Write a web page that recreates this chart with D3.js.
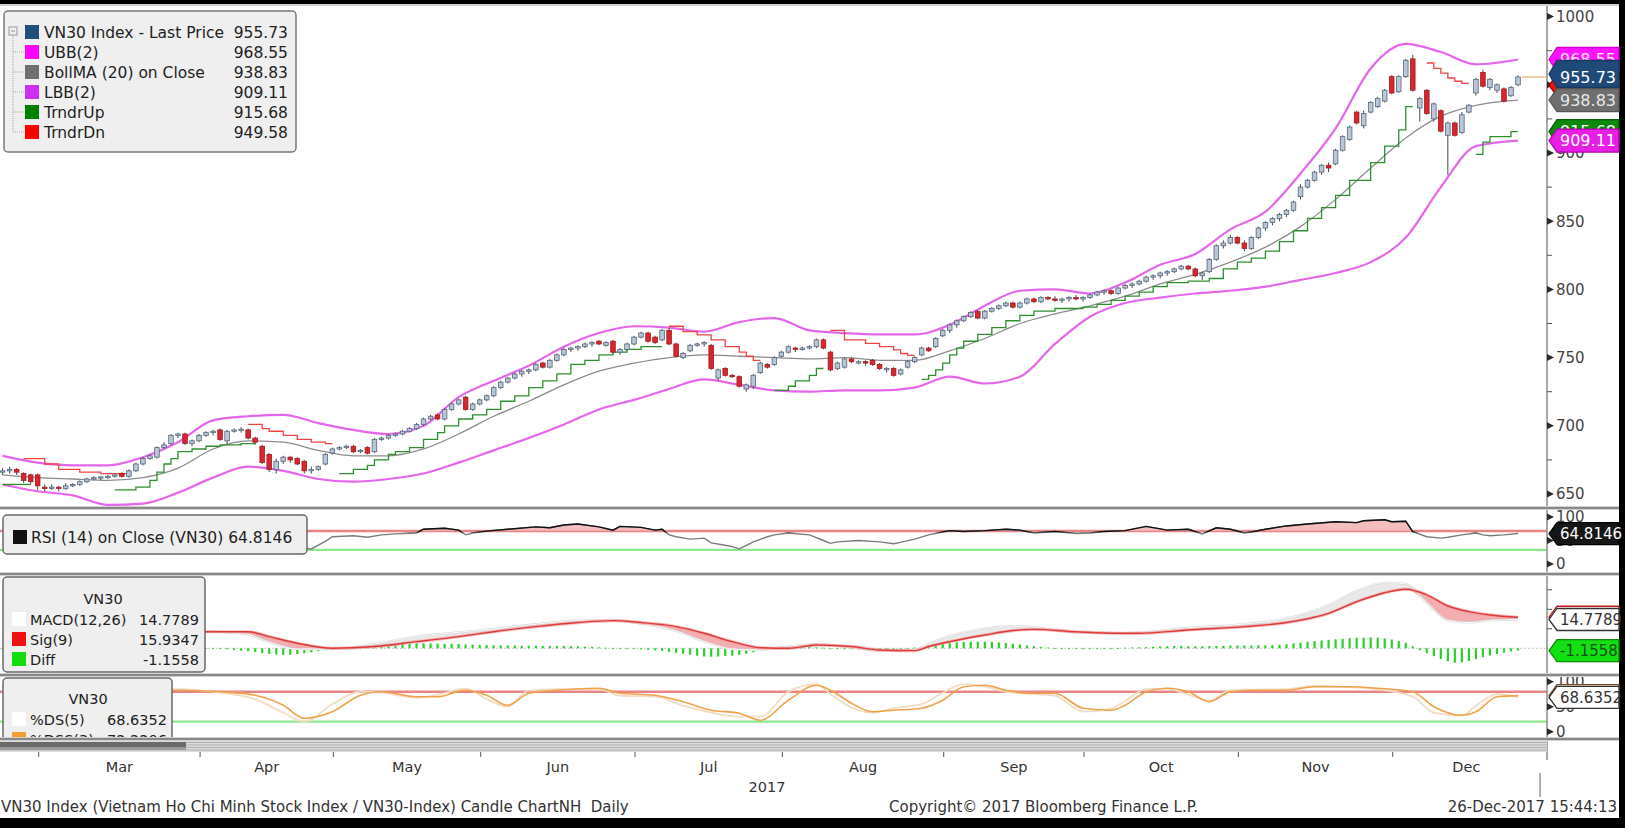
<!DOCTYPE html>
<html><head><meta charset="utf-8">
<script src="https://cdn.jsdelivr.net/npm/d3@7"></script>
<style>
html,body{margin:0;padding:0;background:#000;overflow:hidden;}
svg{display:block;}
text{font-family:"DejaVu Sans",sans-serif;}
</style></head><body>
<svg id="c" width="1625" height="828"></svg>
<script>
// ---------------- DATA ----------------
const months     = ["Mar","Apr","May","Jun","Jul","Aug","Sep","Oct","Nov","Dec"];
const monthStart = [6,29,48,69,91,112,135,155,177,199];
const monthDays  = [23,19,21,22,21,23,20,22,22,21];
const yearLabel  = "2017";

const opens = [
 666,667,668,665,664,664,
 655,654,655,654,656,657,659,661,662,662,663,665,663,667,672,676,677,684,687,693,694,687,689,
 693,695,697,689,696,697,697,691,685,679,668,674,677,676,674,667,668,672,680,
 683,684,685,681,684,681,690,691,693,694,696,698,701,705,708,705,712,716,721,712,716,
 719,722,728,732,735,738,740,741,746,743,748,752,756,757,758,760,762,759,762,754,756,760,
 765,768,765,763,770,760,750,755,759,760,759,735,742,737,736,727,729,739,745,745,751,
 754,757,756,757,758,763,754,742,743,749,746,747,748,745,741,742,738,743,747,752,757,758,766,
 770,774,777,780,784,779,784,786,788,790,787,790,793,791,794,793,792,793,794,793,
 794,796,798,799,797,801,803,804,806,809,810,812,813,815,817,815,810,813,822,832,834,838,
 834,830,838,845,849,852,855,858,868,875,880,886,891,892,902,910,930,920,930,934,938,956,
 945,956,969,933,946,925,931,913,922,915,930,944,959,948,946,947,942,950];
const highs = [
 669,670,669,666,665,665,
 657,657,656,658,658,660,662,663,663,664,665,666,668,673,677,679,685,688,694,695,695,690,694,
 696,697,698,697,698,699,698,692,686,680,676,678,678,677,675,670,671,680,684,
 685,686,686,683,685,691,692,694,695,697,699,702,706,708,709,713,717,720,722,717,720,
 723,729,733,736,739,741,742,746,747,749,753,757,758,759,761,762,763,762,763,757,761,766,
 769,769,766,771,772,761,754,760,761,762,760,742,743,738,737,731,738,747,746,751,755,
 759,758,758,759,764,764,755,747,750,750,748,748,749,746,743,743,742,748,751,758,758,765,771,
 775,778,781,784,785,785,787,789,791,791,791,794,794,795,795,795,794,795,796,795,
 797,799,800,800,802,804,805,807,810,811,813,814,816,818,818,816,813,823,833,836,840,839,
 836,839,846,850,853,856,859,865,877,881,887,892,893,903,913,920,931,931,938,941,947,957,
 957,969,972,941,947,937,932,923,923,930,936,955,961,955,951,948,949,957];
const lows = [
 664,665,664,658,657,653,
 652,653,652,653,655,656,658,660,660,661,662,662,662,666,671,675,676,683,686,691,686,685,688,
 692,693,689,686,695,695,690,686,672,666,665,672,673,671,665,665,667,671,679,
 682,683,680,680,679,680,689,690,692,693,695,697,700,704,704,704,711,715,711,711,715,
 718,721,727,731,734,736,738,740,742,742,747,751,754,755,757,758,759,758,753,752,755,759,
 764,761,760,762,759,750,749,754,758,758,741,733,736,735,728,725,727,738,742,744,750,
 753,754,755,756,757,756,740,741,742,746,745,744,744,741,739,736,737,742,746,751,754,757,765,
 768,772,776,779,778,778,783,785,787,786,786,789,790,790,792,791,790,791,792,791,
 793,795,796,796,796,800,801,803,805,807,808,810,812,814,814,809,807,812,821,830,833,833,
 828,829,837,843,847,850,853,857,866,874,879,884,886,891,901,909,921,918,929,933,937,943,
 944,955,945,923,928,923,915,884,912,914,929,942,948,946,944,937,941,949];
const closes = [
 667,668,666,660,659,656,
 654,655,654,656,657,659,661,662,662.5,663,664,663,667,672,676,678,684,686,693,694,687,689,693,
 695,696,690,696,697,697.5,691,688,673,668,674,677,675,672,667,668,670,679,683,
 684,685,681,682,680,690,691,693,694,696,698,701,705,707,705,712,716,719,712,716,719,
 722,728,732,735,738,740,741,745,743,748,752,756,757,758,760,761,760,761,754,756,760,765,
 768,762,761,770,760,751,753,759,760,761,742,741,737,736,729,730,737,746,743,750,754,
 758,756,757,758,763,757,741,746,749,747,747,746,745,742,742,737,741,747,750,757,755,764,770,
 774,777,780,783,779,784,786,788,790,787,790,793,791,794,793,792,793,794,793,794,
 796,798,799,797,801,803,804,806,809,810,812,813,815,817,815,810,812,822,832,834,838,834,
 830,838,845,849,852,855,858,864,875,880,886,891,889,902,912,919,922,929,937,940,946,944,
 956,968,946,940,929,936,916,922,913,928,935,954,949,954,950,938,948,955.73];

// Bollinger bands (sampled read-offs)
const bbIdx = [0,5,10,15,20,25,30,35,40,45,50,55,60,65,70,75,80,85,90,95,100,105,110,115,120,125,130,135,140,145,150,155,160,165,170,175,180,185,190,195,200,205,210,216];
const ubb = [678,673,671,671,677,688,704,707,708,702,697,694,700,721,733,744,758,768,773,772,769,776,779,770,768,767,767,774,788,799,800,797,805,818,826,844,857,885,918,962,980,974,965,968.55];
const bma = [664,662,661,660,662,669,683,689,688,682,678,678,683,694,707,718,730,740,746,750,752,751,750,749,750,748,748,755,764,775,782,788,795,804,811,820,831,846,866,889,911,927,935,938.83];
const lbb = [657,652,649,642,643,651,662,670,667,661,659,661,665,673,682,691,701,712,719,727,734,730,726,725,726,726,728,736,731,736,760,780,790,794,797,799,802,807,812,820,838,875,905,909.11];

// Trend stop lines: segments of [dayIndex, level]
const trndrUp = [
 [[0,657],[4,657]],
 [[16,653],[19,655],[21,660],[22,666],[23,672],[24,676],[25,681],[27,683],[29,685],[31,686],[34,687],[36,687]],
 [[48,665],[50,668],[52,671],[53,675],[55,679],[56,681],[58,684],[60,690],[62,695],[63,700],[65,705],[67,708],[69,712],[71,718],[73,722],[75,728],[77,733],[79,738],[81,745],[83,748],[85,752],[87,754],[89,756],[91,758],[94,758]],
 [[110,726],[112,729],[113,733],[115,737],[116,742],[117,742]],
 [[131,734],[132,737],[133,741],[134,746],[135,752],[136,757],[137,762],[139,767],[141,772],[143,777],[145,781],[147,784],[150,786],[154,787],[156,789],[158,792],[160,795],[162,798],[164,802],[166,805],[169,806],[172,808],[174,815],[176,820],[178,823],[180,828],[182,835],[184,843],[186,852],[188,860],[190,869],[192,880],[195,893],[197,905],[199,917],[200,934],[201,934]],
 [[210,899],[211,908],[212,912],[215,915.68],[216,915.68]]
];
const trndrDn = [
 [[3,676],[6,672],[8,668],[11,666],[14,665],[18,665]],
 [[35,701],[37,698],[38,696],[40,693],[42,690],[44,688],[46,687],[47,687]],
 [[95,773],[97,769],[99,766.6],[101,763],[103,758],[105,754],[106,751],[107,748],[108,748]],
 [[118,770],[120,763],[123,760.5],[125,758],[127,755.6],[128,753],[129,751.7],[130,751.7]],
 [[203,966],[204,962],[205,958.5],[206,955],[207,952.6],[208,951],[209,951]]
];

// RSI(14)
const rsiIdx = [0,2,4,6,8,10,12,14,16,18,20,22,24,26,28,30,32,34,36,37,38,40,42,43,44,46,47,50,52,54,56,59,60,63,65,66,67,69,72,76,78,80,82,85,87,88,91,93,94,95,96,98,100,101,103,104,105,107,109,110,112,115,117,118,119,122,125,127,128,130,132,134,135,137,140,143,145,147,150,153,155,157,160,163,166,169,171,173,175,177,178,180,183,186,190,193,194,197,198,200,201,203,205,206,208,210,211,212,214,216];
const rsiVal = [50,47,42,38,38,44,48,50,52,58,65,70,72,66,70,69,68,68,60,45,40,38,37,34,32,48,58,60,57,62,64,66,74,76,72,62,66,70,74,79,77,83,85,79,72,80,78,72,74,62,58,53,55,45,40,37,32,47,58,62,66,62,50,44,47,50,47,43,46,53,62,68,71,69,71,74,72,66,69,65,66,69,71,80,72,74,64,77,74,66,68,74,81,85,90,88,92,94,90,91,69,58,55,57,62,66,62,60,62,64.8146];

// MACD(12,26), Signal(9) read-offs and daily Diff histogram
const macdIdx = [0,10,20,29,35,38,42,47,53,59,65,70,76,82,87,91,96,100,104,108,112,116,121,125,130,132,135,140,144,147,153,159,162,169,177,183,189,193,197,200,203,206,209,212,216];
const sigVal  = [7.5,7,7.8,8.5,8.5,6,2.6,0,0.9,3.4,6,8.5,11.1,13.2,14.2,13.2,11.1,7.7,3.4,0.3,0,1.7,0.9,-0.9,-1.2,0.9,3.4,6.8,9.1,9.7,8.5,7.7,7.7,9.4,11.1,13.2,17.9,23.9,28.5,30.3,27.4,21.7,18.8,17.1,15.9347];
const macdVal = [7.0,6.4,9.2,8.7,7.0,3.1,-0.4,-0.5,2.2,6.0,8.2,10.0,12.4,14.2,14.3,12.6,8.8,3.5,-0.4,-0.9,0.9,2.2,0.4,-1.5,-0.8,2.4,6.3,10.2,11.4,10.8,8.1,7.8,8.2,10.5,12.5,15.3,22.2,29.4,33.6,33.1,23.4,14.3,13.2,14.2,14.7789];
const diffVal = [
 -0.5,-0.6,-0.8,-1,-1.2,-1.3,
 -1.3,-1.2,-1,-0.8,-0.6,-0.4,-0.2,0,0.2,0.4,0.6,0.8,1,1.2,1.4,1.6,1.7,1.8,1.6,1.4,1.0,0.6,0.4,
 0.2,0,-0.3,-0.6,-0.9,-1.2,-1.5,-1.9,-2.4,-2.9,-3.2,-3.4,-3.3,-3.0,-2.6,-2.1,-1.5,-1.0,-0.5,
 0,0.4,0.7,0.9,1.0,1.3,1.6,1.9,2.1,2.3,2.5,2.6,2.6,2.5,2.4,2.3,2.3,2.2,2.0,1.8,1.7,
 1.6,1.5,1.5,1.4,1.4,1.3,1.3,1.3,1.2,1.2,1.2,1.2,1.1,1.0,0.9,0.7,0.5,0.3,0.1,-0.2,-0.3,-0.4,
 -0.6,-0.8,-1.0,-1.3,-1.8,-2.3,-2.8,-3.3,-3.8,-4.2,-4.3,-4.2,-4.0,-3.8,-3.3,-2.8,-2.0,-1.2,-0.4,0.3,0.7,
 0.9,1.0,1.0,0.8,0.5,0.3,0,-0.3,-0.5,-0.5,-0.6,-0.6,-0.6,-0.6,-0.5,-0.4,-0.2,0,0.4,0.9,1.5,2.0,2.5,
 2.9,3.1,3.3,3.4,3.4,3.4,3.3,3.0,2.7,2.3,1.9,1.5,1.1,0.7,0.4,0.1,-0.2,-0.3,-0.4,-0.5,
 -0.5,-0.4,-0.3,-0.1,0.1,0.3,0.4,0.5,0.6,0.8,1.0,1.1,1.2,1.2,1.1,1.0,1.0,1.1,1.2,1.3,1.4,1.4,
 1.4,1.4,1.5,1.5,1.6,1.8,2.1,2.5,2.9,3.3,3.7,4.0,4.3,4.6,4.9,5.2,5.4,5.5,5.6,5.5,5.1,4.5,
 3.7,2.8,1.0,-1.0,-2.5,-4.0,-5.5,-6.6,-7.4,-7.2,-6.5,-5.6,-4.6,-3.7,-2.9,-2.2,-1.6,-1.1558];

// Stochastics %DS(5) and %DSS(3)
const stIdx = [0,4,8,12,16,20,25,31,36,40,43,47,51,54,59,62,66,69,72,75,79,85,88,93,97,101,105,108,112,116,118,121,124,127,131,134,137,140,143,146,150,154,158,160,163,166,169,172,175,178,183,187,192,196,201,204,208,210,213,216];
const dssVal = [90,65,40,30,50,75,83,80,73,53,27,40,73,80,70,70,83,73,53,77,83,87,77,73,60,43,37,23,63,93,83,57,40,43,47,63,90,93,83,77,77,47,43,53,80,87,80,60,80,83,83,90,90,87,80,50,33,40,70,72.2206];
const dsVal  = [85,55,30,35,62,82,85,78,65,38,20,55,80,78,68,74,86,65,50,82,85,85,72,70,52,38,30,30,80,95,75,48,38,47,55,78,95,90,80,76,72,40,46,62,85,86,74,62,83,84,85,92,89,85,70,38,32,52,75,68.6352];

// Axis ticks
const priceTicks = [650,700,750,800,850,900,950,1000];
const rsiTicks = [0,50,100];
const stoTicks = [0,50,100];
const macdTicks = [10,20,30];

// Legends / tags
const legNames  = ["VN30 Index - Last Price","UBB(2)","BollMA (20) on Close","LBB(2)","TrndrUp","TrndrDn"];
const legValues = ["955.73","968.55","938.83","909.11","915.68","949.58"];
const legColors = ["#1f4e79","#ff00ff","#707070","#cc33ee","#008000","#ff0000"];
const lastPrice = 955.73;

// ---------------- LAYOUT ----------------
const W=1625, H=828, AX=1547, RIGHT=1619;
const P = {main:[6,506], rsi:[510,572], macd:[576,673], sto:[677,737]};
const COND = '"DejaVu Sans Condensed","DejaVu Sans",sans-serif';
const svg = d3.select('#c');
const defs = svg.append('defs');

svg.append('rect').attr('width',W).attr('height',H).attr('fill','#000');
svg.append('rect').attr('x',0).attr('y',4).attr('width',RIGHT).attr('height',814).attr('fill','#fff');
svg.append('line').attr('x1',0).attr('x2',RIGHT).attr('y1',5).attr('y2',5).attr('stroke','#a0a0a0');

function clip(id,r){ defs.append('clipPath').attr('id',id).append('rect').attr('x',0).attr('y',r[0]).attr('width',AX).attr('height',r[1]-r[0]); }
clip('cMain',P.main); clip('cRsi',P.rsi); clip('cMacd',P.macd); clip('cSto',P.sto);
defs.append('clipPath').attr('id','cStoLeg').append('rect').attr('x',0).attr('y',P.sto[0]).attr('width',300).attr('height',P.sto[1]-P.sto[0]);

const N = closes.length;
const xs = d3.scaleLinear().domain([6,216]).range([44.7,1518]);
const yP = d3.scaleLinear().domain([650,1000]).range([494,16.6]);
const yR = d3.scaleLinear().domain([0,100]).range([564,517]);
const yM = d3.scaleLinear().domain([0,15]).range([648.3,619.05]);
const yS = d3.scaleLinear().domain([0,100]).range([731.7,681.7]);

// ---------- MAIN PANEL ----------
const gM = svg.append('g').attr('clip-path','url(#cMain)');
const bandGen = d3.line().x((d,k)=>xs(bbIdx[k])).y(d=>yP(d)).curve(d3.curveMonotoneX);
gM.append('path').attr('d',bandGen(ubb)).attr('fill','none').attr('stroke','#e466ea').attr('stroke-width',2.2);
gM.append('path').attr('d',bandGen(lbb)).attr('fill','none').attr('stroke','#e466ea').attr('stroke-width',2.2);
gM.append('path').attr('d',bandGen(bma)).attr('fill','none').attr('stroke','#8c8c8c').attr('stroke-width',1.3);

const stepGen = d3.line().x(d=>xs(d[0])).y(d=>yP(d[1])).curve(d3.curveStepAfter);
trndrUp.forEach(s=>gM.append('path').attr('d',stepGen(s)).attr('fill','none').attr('stroke','#2f8f2f').attr('stroke-width',1.3));
trndrDn.forEach(s=>gM.append('path').attr('d',stepGen(s)).attr('fill','none').attr('stroke','#ee4444').attr('stroke-width',1.3));

const cw = 4.6;
for(let i=0;i<N;i++){
  const cx = xs(i), up = closes[i]>=opens[i];
  gM.append('line').attr('x1',cx).attr('x2',cx).attr('y1',yP(highs[i])).attr('y2',yP(lows[i]))
    .attr('stroke','#4a4a4a').attr('stroke-width',1);
  const y1 = yP(Math.max(opens[i],closes[i])), y2 = yP(Math.min(opens[i],closes[i]));
  gM.append('rect').attr('x',cx-cw/2).attr('y',y1).attr('width',cw).attr('height',Math.max(1.2,y2-y1))
    .attr('fill',up?'#b9c6d4':'#d8262e').attr('stroke',up?'#56687e':'#a31a22').attr('stroke-width',0.8);
}
gM.append('line').attr('x1',xs(N-1)+4).attr('x2',AX).attr('y1',yP(lastPrice)).attr('y2',yP(lastPrice))
  .attr('stroke','#e0b868').attr('stroke-width',1.2);

// main legend
const LF = 15.5;
const lg = svg.append('g');
lg.append('rect').attr('x',4).attr('y',11).attr('width',292).attr('height',141).attr('rx',4)
  .attr('fill','#efefef').attr('stroke','#7a7a7a').attr('stroke-width',1.5);
lg.append('rect').attr('x',9).attr('y',27).attr('width',8).attr('height',8).attr('fill','none').attr('stroke','#999');
lg.append('line').attr('x1',11).attr('x2',15).attr('y1',31).attr('y2',31).attr('stroke','#999');
lg.append('line').attr('x1',13).attr('x2',13).attr('y1',36).attr('y2',132).attr('stroke','#aaa').attr('stroke-dasharray','1,1');
legNames.forEach((n,k)=>{
  const yc = 32+20*k;
  if(k>0) lg.append('line').attr('x1',13).attr('x2',24).attr('y1',yc).attr('y2',yc).attr('stroke','#aaa').attr('stroke-dasharray','1,1');
  lg.append('rect').attr('x',25).attr('y',yc-7).attr('width',14).attr('height',14).attr('fill',legColors[k]);
  lg.append('text').attr('x',44).attr('y',yc+5.5).attr('font-size',LF).attr('fill','#222').text(n);
  lg.append('text').attr('x',288).attr('y',yc+5.5).attr('font-size',LF).attr('fill','#222').attr('text-anchor','end').text(legValues[k]);
});

// ---------- RSI PANEL ----------
const gR = svg.append('g').attr('clip-path','url(#cRsi)');
gR.append('line').attr('x1',0).attr('x2',AX).attr('y1',yR(70)).attr('y2',yR(70)).attr('stroke','#e98585').attr('stroke-width',2.5);
gR.append('line').attr('x1',0).attr('x2',AX).attr('y1',yR(30)).attr('y2',yR(30)).attr('stroke','#8ee88e').attr('stroke-width',2.2);
gR.append('path').attr('d',d3.area().x((d,k)=>xs(rsiIdx[k])).y0(yR(70)).y1(d=>yR(Math.max(d,70)))(rsiVal))
  .attr('fill','#f3b3b3').attr('opacity',0.85);
const rsiLine = d3.line().x((d,k)=>xs(rsiIdx[k])).y(d=>yR(d));
gR.append('path').attr('d',rsiLine(rsiVal)).attr('fill','none').attr('stroke','#7c7c7c').attr('stroke-width',1.4);
defs.append('clipPath').attr('id','cRsiHi').append('rect').attr('x',0).attr('y',P.rsi[0]).attr('width',AX).attr('height',yR(67)-P.rsi[0]);
gR.append('g').attr('clip-path','url(#cRsiHi)').append('path').attr('d',rsiLine(rsiVal)).attr('fill','none').attr('stroke','#111').attr('stroke-width',1.4);
const rl = svg.append('g');
rl.append('rect').attr('x',3).attr('y',515).attr('width',304).attr('height',39).attr('rx',4).attr('fill','#efefef').attr('stroke','#6a6a6a').attr('stroke-width',1.5);
rl.append('rect').attr('x',13).attr('y',530).attr('width',14).attr('height',14).attr('fill','#111');
rl.append('text').attr('x',31).attr('y',542.5).attr('font-size',LF).attr('fill','#222').text('RSI (14) on Close (VN30) 64.8146');

// ---------- MACD PANEL ----------
const gMa = svg.append('g').attr('clip-path','url(#cMacd)');
gMa.append('line').attr('x1',0).attr('x2',AX).attr('y1',yM(0)).attr('y2',yM(0)).attr('stroke','#c8c8c8').attr('stroke-dasharray','2,2');
diffVal.forEach((d,i)=>{
  const a=yM(0), b=yM(d);
  gMa.append('rect').attr('x',xs(i)-1.1).attr('y',Math.min(a,b)).attr('width',2.2).attr('height',Math.max(0.8,Math.abs(a-b))).attr('fill','#2ccf2c');
});
const mc = d3.curveMonotoneX;
gMa.append('path').attr('d',d3.area().x((d,k)=>xs(macdIdx[k])).y0((d,k)=>yM(sigVal[k])).y1((d,k)=>yM(Math.min(d,sigVal[k]))).curve(mc)(macdVal)).attr('fill','#f2a0a4').attr('opacity',0.85);
gMa.append('path').attr('d',d3.area().x((d,k)=>xs(macdIdx[k])).y0((d,k)=>yM(sigVal[k])).y1((d,k)=>yM(Math.max(d,sigVal[k]))).curve(mc)(macdVal)).attr('fill','#e4e4e4').attr('opacity',0.8);
const mLine = d3.line().x((d,k)=>xs(macdIdx[k])).y(d=>yM(d)).curve(mc);
gMa.append('path').attr('d',mLine(macdVal)).attr('fill','none').attr('stroke','#d6d6d6').attr('stroke-width',2);
gMa.append('path').attr('d',mLine(macdVal)).attr('fill','none').attr('stroke','#f8f8f8').attr('stroke-width',1);
gMa.append('path').attr('d',mLine(sigVal)).attr('fill','none').attr('stroke','#f0a0a0').attr('stroke-width',3.2).attr('opacity',0.7);
gMa.append('path').attr('d',mLine(sigVal)).attr('fill','none').attr('stroke','#dd3a3a').attr('stroke-width',1.4);
const MF = 14.5;
const ml = svg.append('g');
ml.append('rect').attr('x',3).attr('y',577).attr('width',202).attr('height',95).attr('rx',4).attr('fill','#efefef').attr('stroke','#6a6a6a').attr('stroke-width',1.5);
ml.append('text').attr('x',103).attr('y',604).attr('text-anchor','middle').attr('font-size',MF).attr('fill','#222').text('VN30');
[["MACD(12,26)","14.7789","#ffffff"],["Sig(9)","15.9347","#ee1111"],["Diff","-1.1558","#11dd11"]].forEach((r,k)=>{
  const yc = 619+20*k;
  ml.append('rect').attr('x',12).attr('y',yc-7).attr('width',14).attr('height',14).attr('fill',r[2]);
  ml.append('text').attr('x',30).attr('y',yc+5.5).attr('font-size',MF).attr('fill','#222').text(r[0]);
  ml.append('text').attr('x',199).attr('y',yc+5.5).attr('font-size',MF).attr('fill','#222').attr('text-anchor','end').text(r[1]);
});

// ---------- STOCHASTIC PANEL ----------
const gS = svg.append('g').attr('clip-path','url(#cSto)');
gS.append('line').attr('x1',0).attr('x2',AX).attr('y1',yS(80)).attr('y2',yS(80)).attr('stroke','#e98585').attr('stroke-width',2.5);
gS.append('line').attr('x1',0).attr('x2',AX).attr('y1',yS(20)).attr('y2',yS(20)).attr('stroke','#8ee88e').attr('stroke-width',2.2);
const sLine = d3.line().x((d,k)=>xs(stIdx[k])).y(d=>yS(d)).curve(d3.curveMonotoneX);
gS.append('path').attr('d',sLine(dsVal)).attr('fill','none').attr('stroke','#f2dcc4').attr('stroke-width',1.8);
gS.append('path').attr('d',sLine(dssVal)).attr('fill','none').attr('stroke','#efa24a').attr('stroke-width',1.6);
const sl = svg.append('g').attr('clip-path','url(#cStoLeg)');
sl.append('rect').attr('x',3).attr('y',678).attr('width',169).attr('height',80).attr('rx',4).attr('fill','#efefef').attr('stroke','#6a6a6a').attr('stroke-width',1.5);
sl.append('text').attr('x',88).attr('y',704).attr('text-anchor','middle').attr('font-size',MF).attr('fill','#222').text('VN30');
[["%DS(5)","68.6352","#ffffff"],["%DSS(3)","72.2206","#f0a030"]].forEach((r,k)=>{
  const yc = 719+20*k;
  sl.append('rect').attr('x',12).attr('y',yc-7).attr('width',14).attr('height',14).attr('fill',r[2]);
  sl.append('text').attr('x',30).attr('y',yc+5.5).attr('font-size',MF).attr('fill','#222').text(r[0]);
  sl.append('text').attr('x',167).attr('y',yc+5.5).attr('font-size',MF).attr('fill','#222').attr('text-anchor','end').text(r[1]);
});

// ---------- RIGHT AXES ----------
svg.append('line').attr('x1',AX).attr('x2',AX).attr('y1',6).attr('y2',760).attr('stroke','#8a8a8a').attr('stroke-width',1.5);
function tri(g,y){ g.append('path').attr('d',`M${AX},${y-3.5}L${AX+7},${y}L${AX},${y+3.5}Z`).attr('fill','#2a2a2a'); }
function styleAxis(a){ a.select('.domain').remove(); a.selectAll('text').attr('font-size',15).attr('fill','#444').attr('font-family','"DejaVu Sans",sans-serif'); }
const axMain = svg.append('g').attr('transform',`translate(${AX},0)`)
  .call(d3.axisRight(yP).tickValues(priceTicks).tickSize(0).tickPadding(9).tickFormat(d3.format('d')));
styleAxis(axMain);
const gt = svg.append('g');
priceTicks.forEach(v=>{ tri(gt,yP(v)); const m=v+25; if(m<1000) gt.append('line').attr('x1',AX).attr('x2',AX+5).attr('y1',yP(m)).attr('y2',yP(m)).attr('stroke','#555'); });
const axR = svg.append('g').attr('transform',`translate(${AX},0)`)
  .call(d3.axisRight(yR).tickValues(rsiTicks).tickSize(0).tickPadding(9));
styleAxis(axR);
rsiTicks.forEach(v=>tri(gt,yR(v)));
macdTicks.forEach(v=>gt.append('line').attr('x1',AX).attr('x2',AX+5).attr('y1',yM(v)).attr('y2',yM(v)).attr('stroke','#555'));
const axS = svg.append('g').attr('transform',`translate(${AX},0)`)
  .call(d3.axisRight(yS).tickValues(stoTicks).tickSize(0).tickPadding(9));
styleAxis(axS);
stoTicks.forEach(v=>tri(gt,yS(v)));

// ---------- SEPARATORS (drawn over clipped axis labels) ----------
function sep(y0,h){
  svg.append('rect').attr('x',0).attr('y',y0).attr('width',RIGHT).attr('height',h).attr('fill','#d2d2d2');
  svg.append('rect').attr('x',0).attr('y',y0+1).attr('width',RIGHT).attr('height',h-2).attr('fill','#888');
}
sep(506,4); sep(572,4); sep(673,4); sep(737,4);
svg.append('rect').attr('x',0).attr('y',741).attr('width',AX).attr('height',11).attr('fill','#dcdcdc');
[742.5,745,747.5,750].forEach(y=>svg.append('line').attr('x1',0).attr('x2',AX).attr('y1',y).attr('y2',y).attr('stroke','#a6a6a6').attr('stroke-width',0.8));
svg.append('rect').attr('x',0).attr('y',742).attr('width',186).attr('height',5).attr('fill','#6a6a6a');
svg.append('rect').attr('x',0).attr('y',747).attr('width',186).attr('height',3).attr('fill','#9a9a9a');

// value tags
function tag(yc,h,fill,stroke,txtColor,txt,fs,ytxt){
  const x0=AX+2, g=svg.append('g');
  g.append('path').attr('d',`M${x0},${yc}L${x0+8},${yc-h/2}L${RIGHT},${yc-h/2}L${RIGHT},${yc+h/2}L${x0+8},${yc+h/2}Z`)
   .attr('fill',fill).attr('stroke',stroke).attr('stroke-width',1.3);
  if(txt) g.append('text').attr('x',x0+11).attr('y',(ytxt===undefined?yc:ytxt)+fs*0.36).attr('font-size',fs).attr('font-family',COND).attr('fill',txtColor).text(txt);
}
// main
tag(yP(968.55),24,'#ff14ff','#d000d0','#ffe6ff','968.55',16);
tag(yP(949.58),22,'#ee1111','#aa0000','#fff',null,16);
tag(yP(955.73)-3,27,'#1f4a78','#163a60','#ffffff','955.73',16,yP(955.73));
tag(yP(938.83),23,'#6f6f6f','#555','#e8e8e8','938.83',16);
tag(yP(915.68),24,'#0a8a0a','#066006','#ffffff','915.68',16);
tag(yP(909.11),23,'#e61ee6','#b000b0','#ffffff','909.11',16);
// rsi
tag(yR(64.8146),22,'#161616','#000','#ffffff','64.8146',15);
// macd
tag(yM(15.9347),22,'#ffffff','#c81818','#222',null,15);
tag(yM(14.7789),22,'#ffffff','#333','#333','14.7789',15);
tag(yM(-1.1558),22,'#11e011','#0a8a0a','#1d4d1d','-1.1558',15);
// stochastic
tag(yS(72.2206),22,'#ffffff','#7a4a20','#333',null,15);
tag(yS(68.6352),22,'#ffffff','#333','#333','68.6352',15);

// ---------- X AXIS ----------
const gx = svg.append('g');
const tickX = s => xs(s)-6;
monthStart.forEach((s,k)=>{
  const t0 = tickX(s), t1 = tickX(s+monthDays[k]);
  gx.append('line').attr('x1',t0).attr('x2',t0).attr('y1',752).attr('y2',757).attr('stroke','#555');
  gx.append('text').attr('x',(t0+t1)/2).attr('y',772).attr('text-anchor','middle').attr('font-size',14.5).attr('fill','#333').text(months[k]);
});
const yEnd = tickX(monthStart[9]+monthDays[9]);
gx.append('line').attr('x1',yEnd).attr('x2',yEnd).attr('y1',773).attr('y2',797).attr('stroke','#666');
gx.append('text').attr('x',767).attr('y',792).attr('text-anchor','middle').attr('font-size',14.5).attr('fill','#333').text(yearLabel);

// footer
svg.append('text').attr('x',1).attr('y',811.5).attr('font-size',15).attr('fill','#333').text('VN30 Index (Vietnam Ho Chi Minh Stock Index / VN30-Index) Candle ChartNH\u00a0 Daily');
svg.append('text').attr('x',889).attr('y',811.5).attr('font-size',15).attr('fill','#333').text('Copyright\u00a9 2017 Bloomberg Finance L.P.');
svg.append('text').attr('x',1617).attr('y',811.5).attr('font-size',15).attr('fill','#333').attr('text-anchor','end').text('26-Dec-2017 15:44:13');
</script>
</body></html>
